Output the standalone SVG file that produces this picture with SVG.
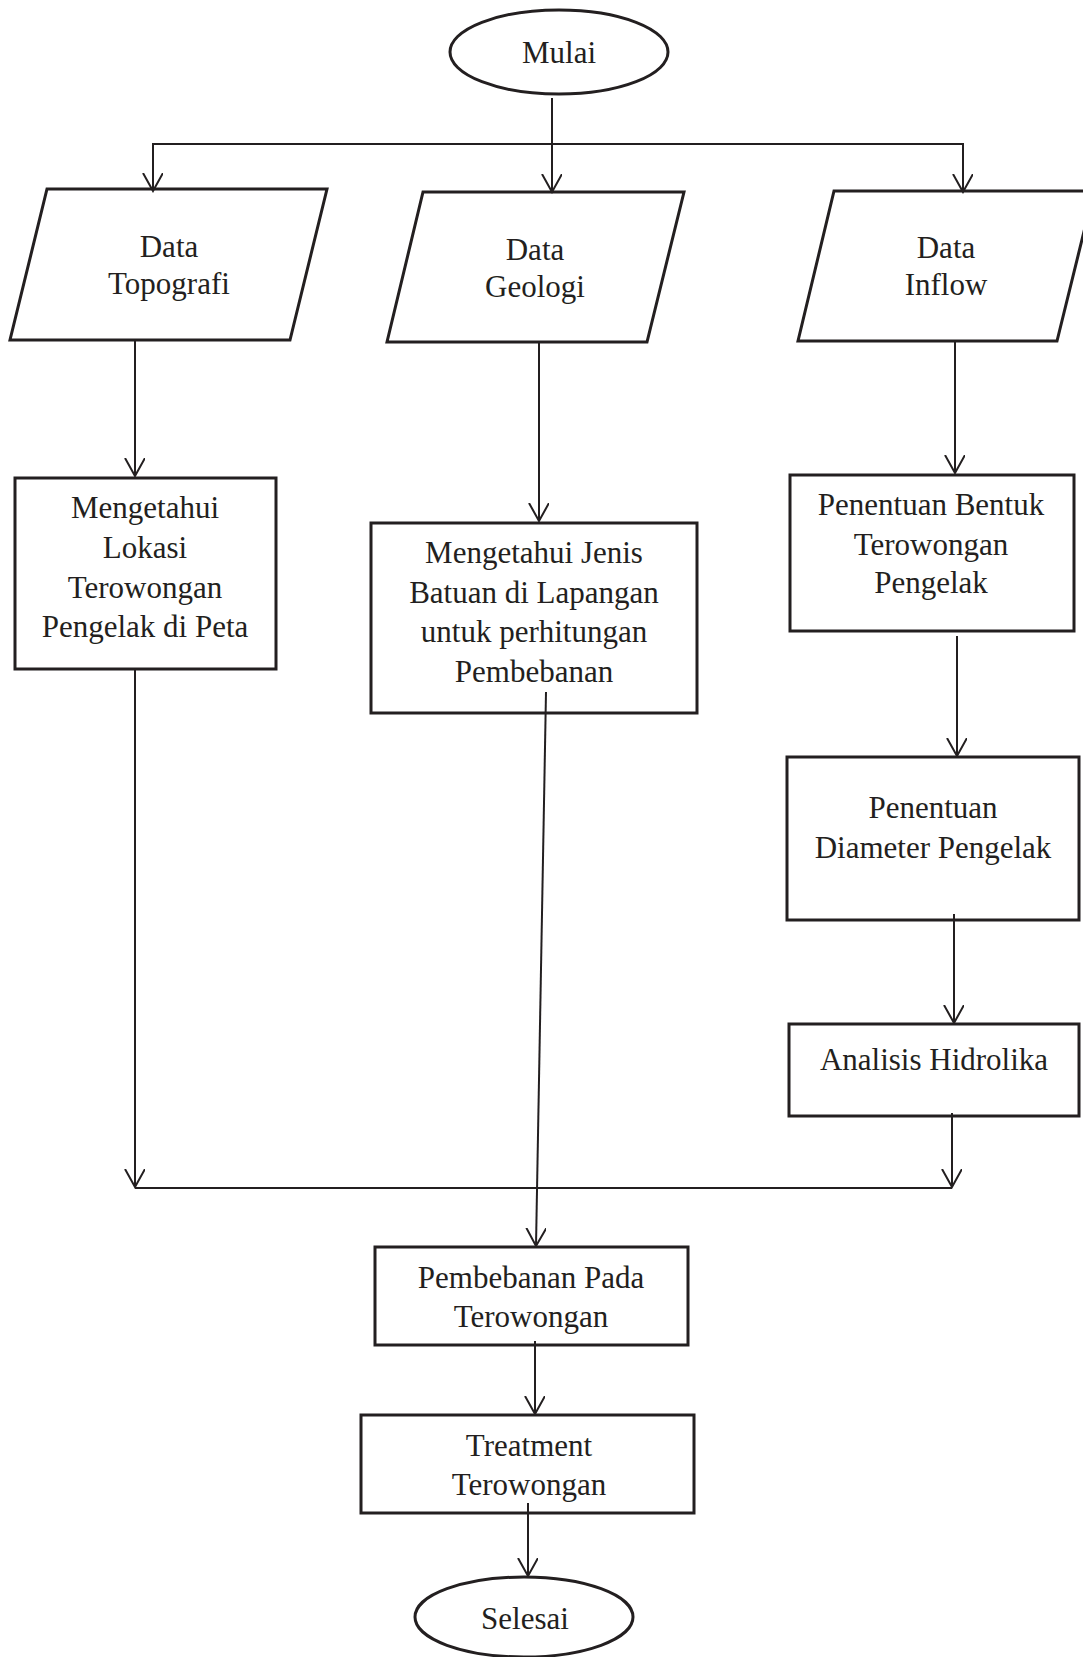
<svg xmlns="http://www.w3.org/2000/svg" width="1083" height="1657" viewBox="0 0 1083 1657">
<style>
.n{fill:#fff;stroke:#231f20;stroke-width:3}
.t{font-family:"Liberation Serif","Times New Roman",serif;font-size:31px;fill:#231f20;text-anchor:middle}
.c{fill:none;stroke:#231f20;stroke-width:2}
</style>
<defs>
<marker id="arr" viewBox="0 0 20 22" refX="18" refY="10" markerWidth="20" markerHeight="22" markerUnits="userSpaceOnUse" orient="auto">
<path d="M0,0 L18,10 L0,20" fill="none" stroke="#231f20" stroke-width="2"/>
</marker>
</defs>
<rect width="1083" height="1657" fill="#fff"/>
<g id="mulai">
<ellipse class="n" cx="559" cy="52" rx="109" ry="42"/>
<text class="t" x="559" y="63">Mulai</text>
</g>
<g id="data-topografi">
<polygon class="n" points="47,189 327,189 290,340 10,340"/>
<text class="t" x="169" y="257">Data</text>
<text class="t" x="169" y="294">Topografi</text>
</g>
<g id="data-geologi">
<polygon class="n" points="423,192 684,192 647,342 387,342"/>
<text class="t" x="535" y="260">Data</text>
<text class="t" x="535" y="297">Geologi</text>
</g>
<g id="data-inflow">
<polygon class="n" points="834,191 1094,191 1057,341 798,341"/>
<text class="t" x="946" y="258">Data</text>
<text class="t" x="946" y="295">Inflow</text>
</g>
<g id="lokasi">
<rect class="n" x="15" y="478" width="261" height="191"/>
<text class="t" x="145" y="518">Mengetahui</text>
<text class="t" x="145" y="558">Lokasi</text>
<text class="t" x="145" y="598">Terowongan</text>
<text class="t" x="145" y="637">Pengelak di Peta</text>
</g>
<g id="jenis-batuan">
<rect class="n" x="371" y="523" width="326" height="190"/>
<text class="t" x="534" y="563">Mengetahui Jenis</text>
<text class="t" x="534" y="603">Batuan di Lapangan</text>
<text class="t" x="534" y="642">untuk perhitungan</text>
<text class="t" x="534" y="682">Pembebanan</text>
</g>
<g id="bentuk">
<rect class="n" x="790" y="475" width="284" height="156"/>
<text class="t" x="931" y="515">Penentuan Bentuk</text>
<text class="t" x="931" y="555">Terowongan</text>
<text class="t" x="931" y="593">Pengelak</text>
</g>
<g id="diameter">
<rect class="n" x="787" y="757" width="292" height="163"/>
<text class="t" x="933" y="818">Penentuan</text>
<text class="t" x="933" y="858">Diameter Pengelak</text>
</g>
<g id="hidrolika">
<rect class="n" x="789" y="1024" width="290" height="92"/>
<text class="t" x="934" y="1070">Analisis Hidrolika</text>
</g>
<g id="pembebanan">
<rect class="n" x="375" y="1247" width="313" height="98"/>
<text class="t" x="531" y="1288">Pembebanan Pada</text>
<text class="t" x="531" y="1327">Terowongan</text>
</g>
<g id="treatment">
<rect class="n" x="361" y="1415" width="333" height="98"/>
<text class="t" x="529" y="1456">Treatment</text>
<text class="t" x="529" y="1495">Terowongan</text>
</g>
<g id="selesai">
<ellipse class="n" cx="524" cy="1617" rx="109" ry="40"/>
<text class="t" x="525" y="1629">Selesai</text>
</g>
<g id="connectors">
<line class="c" x1="552" y1="98" x2="552" y2="192" marker-end="url(#arr)"/>
<polyline class="c" points="153,191 153,144 963,144 963,192" marker-end="url(#arr)"/>
<path class="c" d="M153,144 L153,191" marker-end="url(#arr)"/>
<line class="c" x1="135" y1="341" x2="135" y2="476" marker-end="url(#arr)"/>
<line class="c" x1="539" y1="343" x2="539" y2="521" marker-end="url(#arr)"/>
<line class="c" x1="955" y1="342" x2="955" y2="473" marker-end="url(#arr)"/>
<line class="c" x1="957" y1="636" x2="957" y2="756" marker-end="url(#arr)"/>
<line class="c" x1="954" y1="914" x2="954" y2="1023" marker-end="url(#arr)"/>
<line class="c" x1="135" y1="670" x2="135" y2="1187" marker-end="url(#arr)"/>
<line class="c" x1="952" y1="1113" x2="952" y2="1187" marker-end="url(#arr)"/>
<line class="c" x1="135" y1="1188" x2="952" y2="1188"/>
<line class="c" x1="546" y1="692" x2="536" y2="1246" marker-end="url(#arr)"/>
<line class="c" x1="535" y1="1341" x2="535" y2="1414" marker-end="url(#arr)"/>
<line class="c" x1="528" y1="1503" x2="528" y2="1576" marker-end="url(#arr)"/>
</g>
</svg>
